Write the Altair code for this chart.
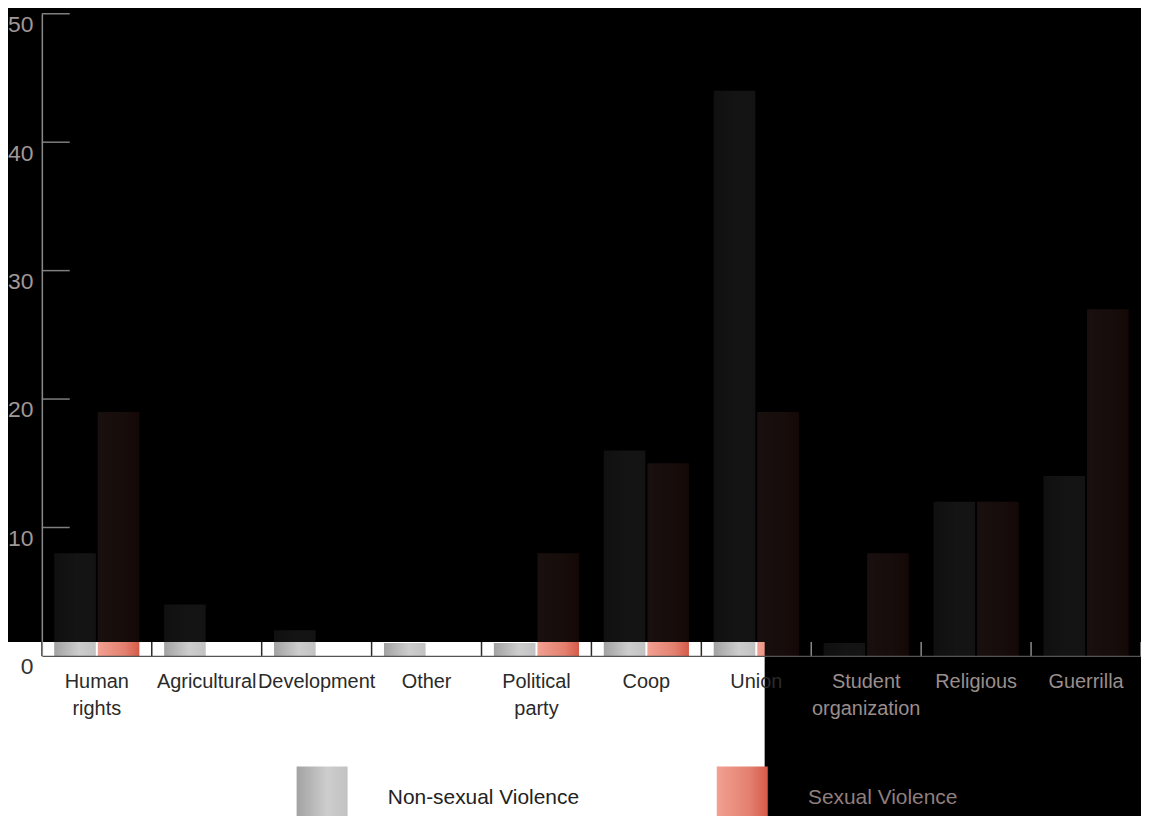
import altair as alt
import pandas as pd

categories = ["Human rights", "Agricultural", "Development", "Other", "Political party",
              "Coop", "Union", "Student organization", "Religious", "Guerrilla"]
series = ["Non-sexual Violence", "Sexual Violence"]
non_sexual = [8, 4, 2, 1, 1, 16, 44, 1, 12, 14]
sexual = [19, 0, 0, 0, 8, 15, 19, 8, 12, 27]
y_ticks = [0, 10, 20, 30, 40, 50]
dark_side = ["Student organization", "Religious", "Guerrilla"]

rows = []
for c, a, b in zip(categories, non_sexual, sexual):
    rows.append({"cat": c, "series": series[0], "value": a})
    rows.append({"cat": c, "series": series[1], "value": b})
df = pd.DataFrame(rows)

W, H = 1104, 645
FONT = "Liberation Sans"

grey_grad = ("{gradient:'linear',x1:0,y1:0,x2:1,y2:0,stops:["
             "{offset:0,color:'#a2a2a2'},{offset:0.6,color:'#cdcdcd'},{offset:1,color:'#c2c2c2'}]}")
red_grad = ("{gradient:'linear',x1:0,y1:0,x2:1,y2:0,stops:["
            "{offset:0,color:'#f2a092'},{offset:0.65,color:'#e3806f'},{offset:1,color:'#d55a48'}]}")

dark_test = " || ".join(f"datum.value == '{c}'" for c in dark_side)
two_line = " || ".join(f"datum.value == '{c}'" for c in ["Human rights", "Political party", "Student organization"])

x_axis = alt.Axis(title=None, tickSize=0, domainColor="#555555", domainWidth=1.2,
                  labelFont=FONT, labelFontSize=20, labelPadding=16, labelLineHeight=27,
                  labelAngle=0, labelBaseline="top", labelLimit=0,
                  labelExpr=f"({two_line}) ? split(datum.value, ' ') : datum.value",
                  labelColor=alt.condition(dark_test, alt.value("#9a8e8c"), alt.value("#2a2a2a")),
                  zindex=1)
y_axis = alt.Axis(title=None, values=y_ticks, tickSize=0, domainColor="#8a8a8a", domainWidth=1.5,
                  labelFont=FONT, labelFontSize=23, labelPadding=9, labelBaseline="top",
                  labelColor=alt.condition("datum.value == 0", alt.value("#333333"), alt.value("#a09898")),
                  grid=False, zindex=1)

x_enc = alt.X("cat:N", sort=categories, axis=x_axis,
              scale=alt.Scale(paddingInner=0, paddingOuter=0))
y_scale = alt.Scale(domain=[0, 50], nice=False)

one = pd.DataFrame({"d": [0]})

white = alt.Chart(one).mark_rect(color="white").encode(
    x=alt.value(-34), x2=alt.value(726), y=alt.value(631), y2=alt.value(812))

bars = alt.Chart(df).mark_bar().encode(
    x=x_enc,
    xOffset=alt.XOffset("series:N", sort=series,
                        scale=alt.Scale(paddingInner=0.045, paddingOuter=0.284)),
    y=alt.Y("value:Q", scale=y_scale, axis=y_axis),
    color=alt.Color("series:N", sort=series,
                    scale=alt.Scale(domain=series,
                                    range=[alt.ExprRef(grey_grad), alt.ExprRef(red_grad)]),
                    legend=alt.Legend(title=None, orient="none", direction="horizontal",
                                      legendX=249.5, legendY=756, padding=0,
                                      symbolType="M-0.8,-1H0.8V1H-0.8Z", symbolSize=4096,
                                      symbolStrokeWidth=0, labelOffset=34, columnPadding=131,
                                      labelFont=FONT, labelFontSize=21, labelLimit=0,
                                      labelColor=alt.ExprRef("datum.value == 'Sexual Violence' ? '#8f7f7c' : '#222222'"))),
)

shade_top = alt.Chart(one).mark_rect(color="black", opacity=0.9).encode(
    x=alt.value(0), x2=alt.value(W), y=alt.value(0), y2=alt.value(631))
shade_right = alt.Chart(one).mark_rect(color="black", opacity=0.9).encode(
    x=alt.value(726), x2=alt.value(W), y=alt.value(631), y2=alt.value(H))

cat_df = pd.DataFrame({"cat": categories})
x_ticks = alt.Chart(cat_df).mark_rule(strokeWidth=1.5).encode(
    x=alt.X("cat:N", sort=categories, axis=x_axis, bandPosition=0,
            scale=alt.Scale(paddingInner=0, paddingOuter=0)),
    y=alt.value(H), y2=alt.value(H - 14),
    color=alt.condition("datum.cat == 'Student organization' || datum.cat == 'Religious' || datum.cat == 'Guerrilla'",
                        alt.value("#8a8a8a"), alt.value("#2a2a2a")),
)
x_tick_end = alt.Chart(cat_df).transform_filter("datum.cat == 'Guerrilla'").mark_rule(
    strokeWidth=1.5, color="#8a8a8a").encode(
    x=alt.X("cat:N", sort=categories, axis=x_axis, bandPosition=1,
            scale=alt.Scale(paddingInner=0, paddingOuter=0)),
    y=alt.value(H), y2=alt.value(H - 14),
)

ytick_df = pd.DataFrame({"value": y_ticks[1:]})
y_tick_rules = alt.Chart(ytick_df).mark_rule(color="#7e7e7e", strokeWidth=1.5).encode(
    y=alt.Y("value:Q", scale=y_scale, axis=y_axis),
    x=alt.value(0), x2=alt.value(28),
)

chart = alt.layer(white, bars, shade_top, shade_right, x_ticks, x_tick_end, y_tick_rules).properties(
    width=W, height=H,
    autosize=alt.AutoSizeParams(type="none"),
    padding={"left": 34, "top": 4, "right": 0, "bottom": 159},
    background="black",
).configure_view(stroke=None)

chart.save("out.html", embed_options={"renderer": "svg", "actions": False})
